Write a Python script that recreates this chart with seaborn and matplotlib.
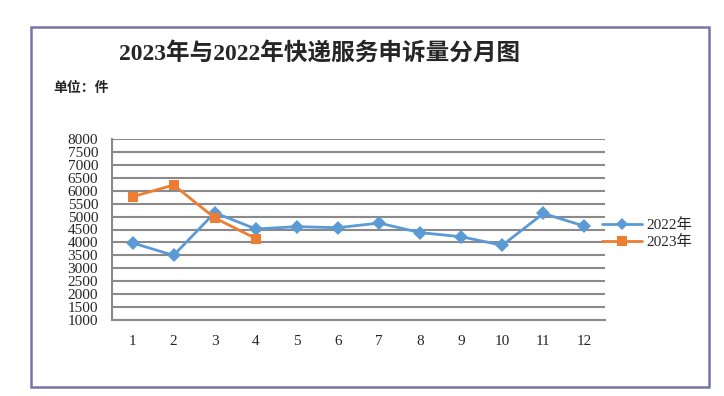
import numpy as np
import pandas as pd
import matplotlib
matplotlib.use("Agg")
import matplotlib.pyplot as plt
import seaborn as sns
from matplotlib.patches import Rectangle

# data
months = list(range(1, 13))
v2022 = [3980, 3500, 5150, 4520, 4610, 4570, 4750, 4380, 4220, 3890, 5120, 4630]
months_2023 = [1, 2, 3, 4]
v2023 = [5770, 6220, 4950, 4150]
series_names = ["2022年", "2023年"]
yticks = list(range(1000, 8001, 500))

df = pd.concat([
    pd.DataFrame({"month": months, "value": v2022, "year": series_names[0]}),
    pd.DataFrame({"month": months_2023, "value": v2023, "year": series_names[1]}),
])

sns.set_style("white")
plt.rcParams["font.family"] = ["Liberation Serif", "Noto Sans CJK SC", "DejaVu Sans"]

fig = plt.figure(figsize=(7.24, 3.96), dpi=100)
ax = fig.add_axes([112 / 724, 1 - 320 / 396, (605 - 112) / 724, (320 - 139) / 396])

# outer frame
fig.patches.append(Rectangle((31 / 724, 1 - 387 / 396), (709 - 31) / 724, (387 - 27) / 396,
                             transform=fig.transFigure, fill=False,
                             edgecolor="#7676a6", linewidth=1.8))

sns.lineplot(data=df, x="month", y="value", hue="year", style="year",
             palette=["#5b9bd5", "#ed7d31"], markers=["D", "s"], dashes=False,
             markersize=7, linewidth=2, markeredgewidth=0, ax=ax, legend=False)

ax.set_ylim(1000, 8000)
ax.set_xlim(0.5, 12.5)
ax.set_yticks(yticks)
ax.set_yticklabels([str(v) for v in yticks], fontsize=11)
ax.yaxis.grid(True, color="#8a8a8a", linewidth=1.5)
ax.set_axisbelow(True)

ax.set_xticks(np.arange(0.5, 13, 1))
ax.set_xticklabels([])
ax.set_xticks(months, minor=True)
ax.set_xticklabels([str(m) for m in months], minor=True, fontsize=11)
ax.tick_params(axis="x", which="major", length=5, width=1.2, color="#8a8a8a", direction="out")
ax.tick_params(axis="x", which="minor", length=0, pad=11)
ax.tick_params(axis="y", length=8, width=1.2, color="#8a8a8a", direction="out", pad=2)
ax.set_xlabel("")
ax.set_ylabel("")

for side in ["top", "right"]:
    ax.spines[side].set_visible(False)
for side in ["left", "bottom"]:
    ax.spines[side].set_color("#8a8a8a")
    ax.spines[side].set_linewidth(1.5)

# legend on the right
handles = [
    plt.Line2D([], [], color="#5b9bd5", marker="D", markersize=6, linewidth=2, markeredgewidth=0),
    plt.Line2D([], [], color="#ed7d31", marker="s", markersize=7, linewidth=2, markeredgewidth=0),
]
fig.legend(handles, series_names, loc="center left", bbox_to_anchor=(596 / 724, 1 - 234 / 396),
           frameon=False, handlelength=2.6, handletextpad=0.3, labelspacing=0.2, fontsize=11,
           borderaxespad=0)

fig.text(320 / 724, 1 - 53 / 396, "2023年与2022年快递服务申诉量分月图", ha="center", va="center",
         fontsize=17, fontweight="bold")
fig.text(53 / 724, 1 - 88 / 396, "单位：件", ha="left", va="center", fontsize=10, fontweight="bold")

fig.savefig("out.png", dpi=100)
